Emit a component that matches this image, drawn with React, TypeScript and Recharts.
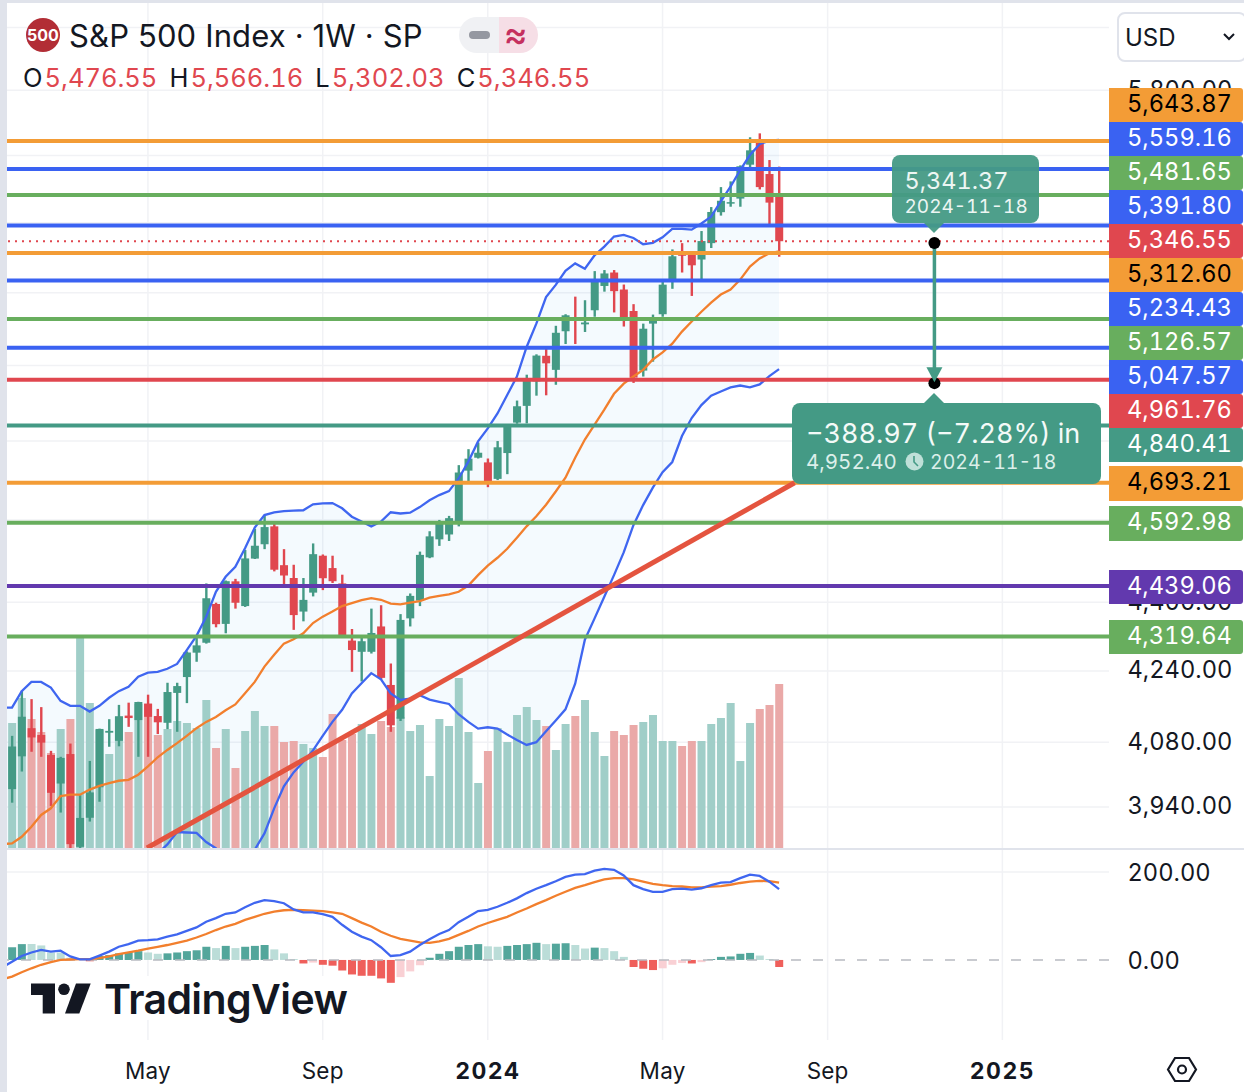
import {
  Area,
  Bar,
  CartesianGrid,
  Cell,
  ComposedChart,
  Line,
  ReferenceDot,
  ReferenceLine,
  XAxis,
  YAxis,
} from 'recharts'

// weekly bars, first one is the week of 2023-01-23
const opens = [
  3978, 4049, 4111, 4096, 4052, 3990, 4054, 3856, 3917, 3982,
  4101, 4083, 4139, 4129, 4166, 4138, 4123, 4190, 4226, 4282,
  4305, 4396, 4349, 4450, 4391, 4505, 4540, 4584, 4489, 4458,
  4378, 4423, 4512, 4482, 4445, 4310, 4284, 4284, 4343, 4208,
  4132, 4362, 4404, 4508, 4552, 4564, 4593, 4724, 4757, 4745,
  4703, 4769, 4848, 4892, 4957, 5026, 4988, 5093, 5130, 5112,
  5151, 5219, 5257, 5209, 5149, 4986, 5114, 5140, 5233, 5311,
  5315, 5294, 5341, 5431, 5459, 5471, 5572, 5639, 5544, 5476.55,
]
const highs = [
  4094, 4195, 4176, 4158, 4061, 4048, 4077, 3965, 4039, 4110,
  4131, 4163, 4168, 4170, 4186, 4154, 4213, 4213, 4285, 4322,
  4445, 4399, 4452, 4456, 4526, 4578, 4612, 4594, 4528, 4490,
  4458, 4542, 4515, 4512, 4466, 4337, 4319, 4385, 4393, 4257,
  4372, 4421, 4522, 4572, 4600, 4610, 4738, 4779, 4796, 4755,
  4800, 4842, 4906, 4975, 5030, 5048, 5108, 5140, 5189, 5179,
  5261, 5264, 5264, 5223, 5168, 5114, 5139, 5238, 5323, 5341,
  5315, 5376, 5446, 5505, 5522, 5570, 5655, 5667, 5586, 5566.16,
]
const lows = [
  3949, 4016, 4059, 4048, 3942, 3928, 3847, 3808, 3909, 3951,
  4070, 4071, 4114, 4048, 4048, 4098, 4109, 4103, 4167, 4261,
  4303, 4341, 4327, 4385, 4389, 4504, 4528, 4474, 4441, 4335,
  4355, 4414, 4429, 4446, 4316, 4238, 4216, 4280, 4220, 4103,
  4127, 4343, 4391, 4506, 4536, 4548, 4584, 4696, 4755, 4682,
  4700, 4715, 4845, 4846, 4919, 4920, 4948, 5058, 5058, 5091,
  5133, 5203, 5145, 5106, 4953, 4970, 5010, 5133, 5211, 5257,
  5191, 5238, 5327, 5421, 5447, 5447, 5565, 5498, 5393, 5302.03,
]
const closes = [
  4070.56, 4136.48, 4090.46, 4079.09, 3970.04, 4045.64, 3861.59, 3916.64, 3970.99, 4109.31,
  4105.02, 4137.64, 4133.52, 4169.48, 4136.25, 4124.08, 4191.98, 4205.45, 4282.37, 4298.86,
  4409.59, 4348.33, 4450.38, 4398.95, 4505.42, 4536.34, 4582.23, 4478.03, 4464.05, 4369.71,
  4405.71, 4515.77, 4457.49, 4450.32, 4320.06, 4288.05, 4308.5, 4327.78, 4224.16, 4117.37,
  4358.34, 4415.24, 4514.02, 4559.34, 4594.63, 4604.37, 4719.19, 4754.63, 4769.83, 4697.24,
  4783.83, 4839.81, 4890.97, 4958.61, 5026.61, 5005.57, 5088.8, 5137.08, 5123.69, 5117.09,
  5234.18, 5254.35, 5204.34, 5123.41, 4967.23, 5099.96, 5127.79, 5222.68, 5303.27, 5304.72,
  5277.51, 5346.99, 5431.6, 5464.62, 5460.48, 5567.19, 5615.35, 5505.0, 5459.1, 5346.55,
]
const volumes = [
  125, 150, 129, 116, 95, 119, 129, 210, 145, 118,
  94, 131, 116, 144, 144, 113, 119, 127, 125, 120,
  148, 100, 119, 80, 117, 137, 122, 122, 106, 107,
  104, 100, 91, 134, 108, 114, 124, 114, 127, 121,
  131, 117, 123, 72, 129, 122, 170, 116, 65, 97,
  120, 106, 133, 141, 128, 122, 98, 124, 132, 148,
  116, 92, 117, 113, 123, 126, 133, 107, 107, 102,
  107, 107, 124, 130, 145, 87, 125, 139, 143, 164,
]
const macdHist = [
  29, 36, 36, 33, 17, 17, 5, 2, -3, 9,
  11, 15, 18, 20, 17, 14, 15, 17, 20, 22,
  30, 27, 32, 27, 30, 32, 34, 24, 15, 2,
  -8, -6, -11, -13, -24, -33, -36, -36, -42, -52,
  -39, -26, -12, 5, 14, 20, 30, 34, 36, 31,
  30, 32, 34, 36, 39, 36, 37, 38, 34, 26,
  28, 27, 20, 7, -16, -20, -23, -19, -11, -7,
  -8, -5, 2, 7, 8, 14, 16, 10, 2, -16,
]

// line series start one week earlier, that week is cut by the left edge of the pane
const bbUpper = [
  4157, 4157, 4194, 4215, 4215, 4202, 4172, 4161, 4161, 4148, 4161,
  4179, 4194, 4204, 4227, 4236, 4238, 4245, 4256, 4288, 4321,
  4366, 4425, 4461, 4485, 4530, 4581, 4612, 4619, 4622, 4623,
  4624, 4639, 4641, 4642, 4629, 4608, 4596, 4584, 4596, 4619,
  4616, 4618, 4632, 4649, 4662, 4672, 4704, 4747, 4799, 4833,
  4872, 4921, 4970, 5050, 5114, 5188, 5222, 5262, 5283, 5268,
  5306, 5331, 5360, 5365, 5356, 5338, 5342, 5358, 5382, 5382,
  5380, 5398, 5418, 5463, 5506, 5556, 5601, 5634, 5645, 5647,
]
const bbBasis = [
  3862, 3863, 3877, 3898, 3923, 3937, 3963, 3966, 3966, 3977, 3985,
  3991, 3996, 3998, 4009, 4027, 4047, 4063, 4078, 4094, 4111,
  4125, 4136, 4151, 4164, 4189, 4215, 4250, 4277, 4303, 4313,
  4327, 4351, 4366, 4378, 4391, 4398, 4405, 4410, 4406, 4397,
  4395, 4399, 4403, 4411, 4415, 4419, 4425, 4440, 4465, 4488,
  4507, 4529, 4556, 4584, 4609, 4638, 4671, 4706, 4757, 4804,
  4843, 4882, 4924, 4951, 4970, 4988, 5016, 5035, 5059, 5092,
  5120, 5147, 5172, 5195, 5209, 5237, 5274, 5297, 5312, 5317,
]
const bbLower = [
  3700, 3702, 3698, 3695, 3700, 3712, 3722, 3730, 3738, 3750, 3762,
  3775, 3790, 3805, 3815, 3825, 3842, 3861, 3887, 3886, 3885,
  3866, 3853, 3800, 3790, 3800, 3850, 3884, 3937, 3984, 4014,
  4037, 4062, 4094, 4125, 4152, 4189, 4212, 4235, 4221, 4189,
  4174, 4177, 4185, 4175, 4170, 4165, 4142, 4125, 4110, 4113,
  4110, 4097, 4085, 4074, 4080, 4104, 4128, 4153, 4211, 4312,
  4362, 4413, 4465, 4520, 4587, 4637, 4681, 4720, 4746, 4813,
  4860, 4894, 4919, 4930, 4941, 4946, 4941, 4949, 4971, 4990,
]
const macdLine = [
  -17, -4, 9, 17, 23, 19, 21, 8, 1.5, 1.5, 10,
  19, 30, 36, 44, 45, 47, 53, 58, 66, 74,
  87, 95, 105, 108, 120, 130, 136, 134, 129, 115,
  108, 108, 104, 98, 80, 64, 53, 45, 29, 9,
  11, 19, 34, 47, 59, 68, 86, 98, 111, 114,
  121, 130, 140, 152, 162, 170, 179, 189, 194, 195,
  203, 207, 205, 192, 170, 161, 155, 155, 161, 162,
  160, 163, 170, 176, 177, 186, 194, 191, 178, 161,
]
const signalLine = [
  -44, -38, -28, -19, -11, -5, 0, 1, 2, 2, 4,
  8, 13, 17, 21, 26, 30, 34, 39, 44, 51,
  59, 68, 76, 82, 91, 98, 105, 110, 113, 114,
  113, 112, 111, 108, 105, 95, 85, 76, 64, 55,
  48, 44, 40, 39, 42, 48, 57, 66, 76, 84,
  91, 98, 108, 117, 127, 136, 146, 155, 164, 170,
  177, 183, 186, 186, 183, 178, 173, 170, 168, 167,
  165, 165, 167, 168, 171, 175, 178, 180, 179, 176,
]

const levelValues = [
  5643.87, 5559.16, 5481.65, 5391.8, 5346.55, 5312.6, 5234.43, 5126.57,
  5047.57, 4961.76, 4840.41, 4693.21, 4592.98, 4439.06, 4319.64,
]
const ORANGE = '#F39C36'
const BLUE = '#3A62F2'
const GREEN = '#68AE5E'
const RED = '#E0474F'
const TEAL = '#449A85'
const PURPLE = '#6239AE'
const levelColors = [
  ORANGE, BLUE, GREEN, BLUE, RED, ORANGE, BLUE, GREEN,
  BLUE, RED, TEAL, ORANGE, GREEN, PURPLE, GREEN,
]
// tags get pushed apart so they do not overlap, so they do not sit on their lines
const tagTops = [88, 122, 156, 190, 224, 258, 292, 326, 360, 394, 428, 466, 506, 570, 620]

const priceTicks = [6000, 5800, 5600, 5400, 5200, 5000, 4800, 4600, 4400, 4240, 4080, 3940]
const macdTicks = [200, 0]
const timeTicks = [14, 32, 49, 67, 84, 102]
const timeLabels = ['May', 'Sep', '2024', 'May', 'Sep', '2025']

const measureWeek = 95
const measureFrom = 5341.37
const measureTo = 4952.4
const measureDelta = 388.97
const trendFrom = { i: 13.9, price: 3853.6 }
const trendTo = { i: 80.6, price: 4693.21 }

const rows = bbUpper.map((_, k) => {
  const n = k - 1
  return {
    i: n,
    open: opens[n],
    high: highs[n],
    low: lows[n],
    close: closes[n],
    range: n >= 0 ? [lows[n], highs[n]] : null,
    volume: n >= 0 ? volumes[n] : null,
    hist: n >= 0 ? macdHist[n] : null,
    band: [bbLower[k], bbUpper[k]],
    upper: bbUpper[k],
    basis: bbBasis[k],
    lower: bbLower[k],
    macd: macdLine[k],
    signal: signalLine[k],
  }
})

const FONT = 'Inter, sans-serif'
const INK = '#131722'
const GRID = '#F1F2F5'
const X_DOMAIN = [-0.515, 112.98]
const money = (v: number) =>
  v.toLocaleString('en-US', { minimumFractionDigits: 2, maximumFractionDigits: 2 })

// body position comes from the wick rect the axis gave us, prices are on a log scale
const Candle = (props: any) => {
  const { x, y, width, height, payload } = props
  if (payload.open == null || height == null) return <g />
  const up = payload.close >= payload.open
  const color = up ? TEAL : RED
  const span = Math.log(payload.high) - Math.log(payload.low)
  const yOf = (p: number) => y + (height * (Math.log(payload.high) - Math.log(p))) / span
  const top = yOf(Math.max(payload.open, payload.close))
  const bottom = yOf(Math.min(payload.open, payload.close))
  const cx = x + width / 2
  return (
    <g>
      <rect x={cx - 1.2} y={y} width={2.4} height={height} fill={color} />
      <rect x={x} y={top} width={width} height={Math.max(bottom - top, 1.5)} fill={color} />
    </g>
  )
}

const histColor = (v: number, prev: number | undefined) => {
  const rising = prev === undefined || v > prev
  if (v >= 0) return rising ? '#53A69B' : '#BBDDD8'
  return rising ? '#F9D0D4' : '#EF5F5B'
}

const TimeTick = ({ x, y, payload }: any) => {
  const label = timeLabels[timeTicks.indexOf(payload.value)]
  const year = label && label.length === 4
  return (
    <text
      x={x}
      y={y + 31}
      textAnchor="middle"
      fontFamily={FONT}
      fontSize={year ? 23 : 22.5}
      fontWeight={year ? 700 : 400}
      letterSpacing={year ? 1.4 : 0.2}
      fill={INK}
    >
      {label}
    </text>
  )
}

const ArrowHead = ({ cx, cy }: any) => (
  <path d={`M${cx - 8} ${cy - 16}L${cx + 8} ${cy - 16}L${cx} ${cy - 1}Z`} fill={TEAL} />
)

function PriceTags() {
  return (
    <>
      {levelValues.map((v, k) => (
        <div
          key={v}
          style={{
            position: 'absolute',
            left: 1109,
            top: tagTops[k],
            width: 134,
            height: k === 11 || k === 12 ? 35 : 34,
            lineHeight: '31px',
            background: levelColors[k],
            color: levelColors[k] === ORANGE ? '#000' : '#fff',
            borderRadius: '0 3px 3px 0',
            paddingLeft: 18,
            boxSizing: 'border-box',
            fontSize: 23.7,
          }}
        >
          {money(v)}
        </div>
      ))}
    </>
  )
}

function Header() {
  const value = { color: RED, marginLeft: 2, marginRight: 12 }
  return (
    <>
      <div
        style={{
          position: 'absolute',
          left: 26,
          top: 18,
          width: 34,
          height: 34,
          borderRadius: 17,
          background: '#B22D35',
          color: '#fff',
          fontSize: 16,
          fontWeight: 700,
          lineHeight: '34px',
          textAlign: 'center',
          fontFeatureSettings: 'normal',
        }}
      >
        500
      </div>
      <div
        style={{
          position: 'absolute',
          left: 69,
          top: 17,
          fontSize: 31,
          letterSpacing: 0.14,
          lineHeight: '38px',
          color: INK,
          whiteSpace: 'nowrap',
          fontFeatureSettings: 'normal',
        }}
      >
        S&amp;P 500 Index · 1W · SP
      </div>
      <div style={{ position: 'absolute', left: 459, top: 17, width: 40, height: 36, background: '#F0F1F4', borderRadius: '18px 0 0 18px' }}>
        <div style={{ position: 'absolute', left: 10, top: 14, width: 21, height: 8, borderRadius: 4, background: '#9598A1' }} />
      </div>
      <div
        style={{
          position: 'absolute',
          left: 499,
          top: 17,
          width: 39,
          height: 36,
          background: '#F6DEE6',
          borderRadius: '0 18px 18px 0',
          color: '#C5305F',
          fontSize: 36,
          fontWeight: 500,
          lineHeight: '34px',
          paddingLeft: 5,
          boxSizing: 'border-box',
        }}
      >
        ≈
      </div>
      <div style={{ position: 'absolute', left: 23, top: 63, fontSize: 25.5, lineHeight: '30px', color: INK, whiteSpace: 'nowrap' }}>
        O<span style={value}>{money(opens[79])}</span>
        H<span style={value}>{money(highs[79])}</span>
        L<span style={value}>{money(lows[79])}</span>
        C<span style={{ ...value, marginRight: 0 }}>{money(closes[79])}</span>
      </div>
      <div
        style={{
          position: 'absolute',
          left: 1117,
          top: 12,
          width: 130,
          height: 50,
          background: '#fff',
          border: '2px solid #E0E3EB',
          borderRadius: 8,
          boxSizing: 'border-box',
          fontSize: 24,
          lineHeight: '47px',
          paddingLeft: 6,
          color: INK,
        }}
      >
        USD
      </div>
      <svg style={{ position: 'absolute', left: 1222, top: 32 }} width={16} height={10}>
        <path d="M2 2 L7 7 L12 2" fill="none" stroke={INK} strokeWidth={2} />
      </svg>
    </>
  )
}

function MeasureLabels() {
  return (
    <>
      <div
        style={{
          position: 'absolute',
          left: 892,
          top: 155,
          width: 147,
          height: 68,
          borderRadius: 8,
          background: 'rgba(68,154,133,0.95)',
          color: '#ECF6F3',
        }}
      >
        <div style={{ position: 'absolute', left: 12.5, top: 11, fontSize: 23.5, lineHeight: '30px' }}>{money(measureFrom)}</div>
        <div style={{ position: 'absolute', left: 12.5, top: 40, fontSize: 19, lineHeight: '24px', whiteSpace: 'nowrap' }}>2024-11-18</div>
      </div>
      <svg style={{ position: 'absolute', left: 924, top: 223 }} width={20} height={11}>
        <path d="M0 0 L20 0 L10 10 Z" fill="rgba(68,154,133,0.95)" />
      </svg>
      <svg style={{ position: 'absolute', left: 924, top: 393 }} width={20} height={11}>
        <path d="M0 10 L20 10 L10 0 Z" fill={TEAL} />
      </svg>
      <div
        style={{
          position: 'absolute',
          left: 792,
          top: 403,
          width: 309,
          height: 81,
          borderRadius: 8,
          background: TEAL,
          color: '#F4FAF8',
        }}
      >
        <div style={{ position: 'absolute', left: 14, top: 13, fontSize: 27, lineHeight: '36px', whiteSpace: 'nowrap' }}>
          −{money(measureDelta)} (−7.28%) in
        </div>
        <div style={{ position: 'absolute', left: 14, top: 46, fontSize: 20.5, lineHeight: '26px', whiteSpace: 'nowrap', color: '#DCEFEA' }}>
          {money(measureTo)}
        </div>
        <svg style={{ position: 'absolute', left: 113, top: 49 }} width={19} height={19}>
          <circle cx={9.5} cy={9.5} r={9} fill="#BFE0D8" />
          <path d="M9 4 L9 10 L13 14" fill="none" stroke={TEAL} strokeWidth={1.6} />
        </svg>
        <div style={{ position: 'absolute', left: 138, top: 46, fontSize: 19.5, lineHeight: '26px', whiteSpace: 'nowrap', color: '#DCEFEA' }}>
          2024-11-18
        </div>
      </div>
    </>
  )
}

function Logo() {
  return (
    <>
      <div style={{ position: 'absolute', left: 30, top: 976, width: 318, height: 44, background: '#fff' }} />
      <svg style={{ position: 'absolute', left: 30, top: 982 }} width={64} height={34}>
        <path d="M1 1.5 H25 V31.5 H12.7 V13 H1 Z" fill={INK} />
        <circle cx={34} cy={7.3} r={5.8} fill={INK} />
        <path d="M46 1.5 H60.7 L49.3 31.5 H35 Z" fill={INK} />
      </svg>
      <div
        style={{
          position: 'absolute',
          left: 104,
          top: 974,
          fontSize: 41,
          fontWeight: 600,
          letterSpacing: -0.6,
          lineHeight: '50px',
          color: INK,
          whiteSpace: 'nowrap',
        }}
      >
        TradingView
      </div>
    </>
  )
}

export default function App() {
  return (
    <div
      style={{
        position: 'absolute',
        left: 0,
        top: 0,
        width: 1244,
        height: 1092,
        background: '#fff',
        overflow: 'hidden',
        fontFamily: FONT,
        fontFeatureSettings: '"tnum"',
      }}
    >
      <ComposedChart
        width={1244}
        height={848}
        data={rows}
        margin={{ top: 3, right: 0, bottom: 0, left: 7 }}
        style={{ position: 'absolute', left: 0, top: 0 }}
      >
        <XAxis xAxisId="price" dataKey="i" type="number" domain={X_DOMAIN} allowDataOverflow hide />
        <XAxis xAxisId="vol" dataKey="i" type="number" domain={X_DOMAIN} allowDataOverflow hide />
        <YAxis
          yAxisId="price"
          orientation="right"
          scale="log"
          domain={[3853.6, 6080]}
          allowDataOverflow
          ticks={priceTicks}
          interval={0}
          width={135}
          axisLine={false}
          tickLine={false}
          tickSize={0}
          tickMargin={18.5}
          tickFormatter={money}
          tick={{ fontSize: 23.7, fill: INK, fontFamily: FONT, dy: -1 }}
        />
        <YAxis yAxisId="vol" domain={[0, 845]} allowDataOverflow hide />
        <CartesianGrid
          xAxisId="price"
          yAxisId="price"
          stroke={GRID}
          strokeWidth={1.5}
          verticalValues={timeTicks}
          horizontalValues={priceTicks}
        />
        <Area
          xAxisId="price"
          yAxisId="price"
          dataKey="band"
          type="linear"
          fill="#2196F3"
          fillOpacity={0.05}
          stroke="none"
          isAnimationActive={false}
        />
        <Bar xAxisId="vol" yAxisId="vol" dataKey="volume" barSize={8} isAnimationActive={false}>
          {rows.map((r) => (
            <Cell key={r.i} fill={r.close < r.open ? '#EAA9A8' : '#A0CEC8'} />
          ))}
        </Bar>
        <Bar xAxisId="price" yAxisId="price" dataKey="range" barSize={8} shape={<Candle />} isAnimationActive={false} />
        <Line xAxisId="price" yAxisId="price" dataKey="upper" type="linear" stroke="#3F66F0" strokeWidth={2.3} dot={false} isAnimationActive={false} />
        <Line xAxisId="price" yAxisId="price" dataKey="lower" type="linear" stroke="#3F66F0" strokeWidth={2.3} dot={false} isAnimationActive={false} />
        <Line xAxisId="price" yAxisId="price" dataKey="basis" type="linear" stroke="#F27F2D" strokeWidth={2.3} dot={false} isAnimationActive={false} />
        {levelValues.map((v, k) => (
          <ReferenceLine
            key={v}
            xAxisId="price"
            yAxisId="price"
            y={v}
            stroke={levelColors[k]}
            strokeWidth={k === 4 ? 2 : 4}
            strokeDasharray={k === 4 ? '2 5' : undefined}
          />
        ))}
        <ReferenceLine
          xAxisId="price"
          yAxisId="price"
          segment={[
            { x: trendFrom.i, y: trendFrom.price },
            { x: trendTo.i, y: trendTo.price },
          ]}
          stroke="#E4543F"
          strokeWidth={5}
        />
        <ReferenceLine
          xAxisId="price"
          yAxisId="price"
          segment={[
            { x: measureWeek, y: measureFrom },
            { x: measureWeek, y: measureTo },
          ]}
          stroke={TEAL}
          strokeWidth={3.5}
        />
        <ReferenceDot xAxisId="price" yAxisId="price" x={measureWeek} y={measureFrom} r={6} fill="#000" stroke="none" />
        <ReferenceDot xAxisId="price" yAxisId="price" x={measureWeek} y={measureTo} r={6} fill="#000" stroke="none" />
        <ReferenceDot xAxisId="price" yAxisId="price" x={measureWeek} y={measureTo} r={6} shape={<ArrowHead />} />
      </ComposedChart>

      <ComposedChart
        width={1244}
        height={242}
        data={rows}
        margin={{ top: 0, right: 0, bottom: 0, left: 7 }}
        style={{ position: 'absolute', left: 0, top: 850 }}
      >
        <XAxis
          dataKey="i"
          type="number"
          domain={X_DOMAIN}
          allowDataOverflow
          ticks={timeTicks}
          interval={0}
          height={52}
          axisLine={false}
          tickLine={false}
          tick={<TimeTick />}
        />
        <YAxis
          orientation="right"
          domain={[-182, 250]}
          ticks={macdTicks}
          interval={0}
          width={135}
          axisLine={false}
          tickLine={false}
          tickSize={0}
          tickMargin={18.5}
          tickFormatter={money}
          tick={{ fontSize: 23.7, fill: INK, fontFamily: FONT, dy: 0.5 }}
        />
        <CartesianGrid stroke={GRID} strokeWidth={1.5} verticalValues={timeTicks} horizontalValues={[200]} />
        <Bar dataKey="hist" barSize={8} isAnimationActive={false}>
          {rows.map((r, k) => (
            <Cell key={r.i} fill={r.hist == null ? 'none' : histColor(r.hist, k > 1 ? (rows[k - 1].hist as number) : undefined)} />
          ))}
        </Bar>
        <ReferenceLine y={0} stroke="#B8BAC1" strokeWidth={1.5} strokeDasharray="10 12" />
        <Line dataKey="signal" type="linear" stroke="#F27F2D" strokeWidth={2.3} dot={false} isAnimationActive={false} />
        <Line dataKey="macd" type="linear" stroke="#3F66F0" strokeWidth={2.3} dot={false} isAnimationActive={false} />
      </ComposedChart>

      <div style={{ position: 'absolute', left: 0, top: 0, width: 7, height: 1092, background: '#E0E3EB' }} />
      <div style={{ position: 'absolute', left: 0, top: 0, width: 1244, height: 3, background: '#E0E3EB' }} />
      <div style={{ position: 'absolute', left: 7, top: 848, width: 1237, height: 2, background: '#E0E3EB' }} />

      <Header />
      <PriceTags />
      <MeasureLabels />
      <Logo />
      <svg style={{ position: 'absolute', left: 1166, top: 1055 }} width={32} height={29}>
        <path d="M2 14.5 L9 3 H23 L30 14.5 L23 26 H9 Z" fill="none" stroke={INK} strokeWidth={2.2} />
        <circle cx={16} cy={14.5} r={4} fill="none" stroke={INK} strokeWidth={2.2} />
      </svg>
    </div>
  )
}
